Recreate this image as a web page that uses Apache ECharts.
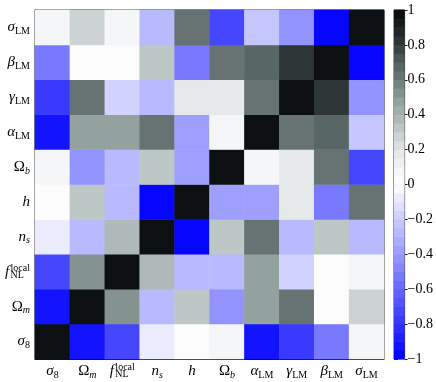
<!DOCTYPE html>
<html>
<head>
<meta charset="utf-8">
<script src="https://cdn.jsdelivr.net/npm/echarts@6/dist/echarts.min.js"></script>
<style>html,body{margin:0;padding:0;background:#fff;}#c{width:436px;height:382px;}</style>
</head>
<body>
<div id="c"></div>
<script>
// Parameter order (x: left->right, y: bottom->top)
const params = ['σ8', 'Ωm', 'fNL', 'ns', 'h', 'Ωb', 'αLM', 'γLM', 'βLM', 'σLM'];
const paramLabels = [
  '{i|σ}{s|8}',
  '{r|Ω}{si|m}',
  '{ph|f}{sup|local}\n{i2|f}{s2|NL}',
  '{i|n}{si|s}',
  '{i|h}',
  '{r|Ω}{si|b}',
  '{i|α}{s|LM}',
  '{i|γ}{s|LM}',
  '{i|β}{s|LM}',
  '{i|σ}{s|LM}'
];
// Correlation matrix rows in parameter order
const rowSigma8 = [1, -0.91, -0.72, -0.1, 0, 0.07, -0.91, -0.8, -0.53, 0.07];
const rowOmegaM = [-0.91, 1, 0.53, -0.3, 0.32, -0.43, 0.48, 0.61, 0, 0.27];
const rowFNL    = [-0.72, 0.53, 1, 0.39, -0.3, -0.3, 0.48, -0.17, 0, 0.07];
const rowNs     = [-0.1, -0.3, 0.39, 1, -0.98, 0.32, 0.61, -0.3, 0.32, -0.3];
const rowH      = [0, 0.32, -0.3, -0.98, 1, -0.38, -0.38, 0.17, -0.53, 0.61];
const rowOmegaB = [0.07, -0.43, -0.3, 0.32, -0.38, 1, 0.07, 0.17, 0.61, -0.72];
const rowAlpha  = [-0.91, 0.48, 0.48, 0.61, -0.38, 0.07, 1, 0.61, 0.68, -0.22];
const rowGamma  = [-0.8, 0.61, -0.17, -0.3, 0.17, 0.17, 0.61, 1, 0.8, -0.43];
const rowBeta   = [-0.53, 0, 0, 0.32, -0.53, 0.61, 0.68, 0.8, 1, -0.98];
const rowSigmaLM= [0.07, 0.27, 0.07, -0.3, 0.61, -0.72, -0.22, -0.43, -0.98, 1];
const matrix = [rowSigma8, rowOmegaM, rowFNL, rowNs, rowH, rowOmegaB, rowAlpha, rowGamma, rowBeta, rowSigmaLM];
const colorbarTicks = [-1, -0.8, -0.6, -0.4, -0.2, 0, 0.2, 0.4, 0.6, 0.8, 1];
const annotationText = 'Counts';

// colormap (style)
const posStops = [
  [0.0, [255,255,255]], [0.1, [242,243,245]], [0.2, [226,229,229]], [0.3, [196,205,203]],
  [0.4, [168,180,178]], [0.5, [140,154,152]], [0.6, [108,122,120]], [0.7, [82,95,95]],
  [0.8, [52,60,60]], [0.9, [28,33,34]], [1.0, [8,10,12]]
];
function cmap(v) {
  let c;
  if (v <= 0) {
    const t = Math.max(0, 1 + v);
    c = [255 * t, 255 * t, 255];
  } else {
    for (let k = 0; k < posStops.length - 1; k++) {
      const a = posStops[k], b = posStops[k + 1];
      if (v <= b[0]) {
        const t = (v - a[0]) / (b[0] - a[0]);
        c = a[1].map((x, m) => x + (b[1][m] - x) * t);
        break;
      }
    }
    if (!c) c = posStops[posStops.length - 1][1];
  }
  return 'rgb(' + c.map(x => Math.round(x)).join(',') + ')';
}
const nBands = 40, step = 2 / nBands;
const pieces = [];
const bands = [];
for (let k = 0; k < nBands; k++) {
  const lo = Math.round((-1 + k * step) * 1000) / 1000;
  const hi = Math.round((lo + step) * 1000) / 1000;
  const col = cmap(lo + step / 2);
  const p = { gte: lo, color: col };
  if (k === nBands - 1) p.lte = hi; else p.lt = hi;
  pieces.push(p);
  bands.push([0, lo, hi]);
}

const heatData = [];
for (let i = 0; i < params.length; i++)
  for (let j = 0; j < params.length; j++)
    heatData.push([i, j, matrix[j][i]]);

const SERIF = '"Liberation Serif", "DejaVu Serif", serif';
const rich = {
  i:  { fontFamily: SERIF, fontStyle: 'italic', fontSize: 15, lineHeight: 18, verticalAlign: 'middle', color: '#000' },
  r:  { fontFamily: SERIF, fontSize: 15, lineHeight: 18, verticalAlign: 'middle', color: '#000' },
  s:  { fontFamily: SERIF, fontSize: 10, lineHeight: 18, verticalAlign: 'bottom', color: '#000' },
  si: { fontFamily: SERIF, fontStyle: 'italic', fontSize: 10, lineHeight: 18, verticalAlign: 'bottom', color: '#000' },
  ph: { fontFamily: SERIF, fontStyle: 'italic', fontSize: 15, lineHeight: 1, verticalAlign: 'top', align: 'left', padding: [0, 1.5, 0, 0], color: 'rgba(0,0,0,0)' },
  sup:{ fontFamily: SERIF, fontSize: 10, lineHeight: 1, verticalAlign: 'top', align: 'left', color: '#000' },
  i2: { fontFamily: SERIF, fontStyle: 'italic', fontSize: 15, lineHeight: 16, verticalAlign: 'middle', align: 'left', padding: [0, 1.5, 0, 0], color: '#000' },
  s2: { fontFamily: SERIF, fontSize: 10, lineHeight: 16, verticalAlign: 'bottom', align: 'left', color: '#000' }
};

const chart = echarts.init(document.getElementById('c'), null, { renderer: 'canvas' });
chart.setOption({
  animation: false,
  backgroundColor: '#fff',
  grid: [
    { left: 35, top: 10, width: 349, height: 349, show: true, borderColor: '#111', borderWidth: 1, backgroundColor: 'transparent' },
    { left: 394, top: 10, width: 13, height: 349, show: true, borderColor: '#333', borderWidth: 1, backgroundColor: 'transparent' }
  ],
  xAxis: [
    { type: 'category', gridIndex: 0, data: paramLabels, axisTick: { show: false },
      axisLine: { show: true, lineStyle: { color: '#111', width: 1 } },
      splitLine: { show: false },
      axisLabel: { interval: 0, margin: 3, rich: rich, formatter: v => v } },
    { type: 'category', gridIndex: 1, data: ['cb'], show: false }
  ],
  yAxis: [
    { type: 'category', gridIndex: 0, data: paramLabels, axisTick: { show: false },
      axisLine: { show: true, lineStyle: { color: '#111', width: 1 } },
      splitLine: { show: false },
      axisLabel: { interval: 0, margin: 5, rich: rich, formatter: v => v } },
    { type: 'value', gridIndex: 1, position: 'right', min: -1, max: 1, interval: 0.2,
      splitLine: { show: false },
      axisLine: { show: false },
      axisTick: { show: true, inside: false, length: 3, lineStyle: { color: '#222' } },
      axisLabel: { margin: 3, color: '#000', fontFamily: SERIF, fontSize: 14,
        formatter: v => { const r = Math.round(v * 10) / 10; return r < 0 ? '\u2212' + String(-r) : String(r); } } },
    { type: 'value', gridIndex: 1, position: 'left', min: -1, max: 1, interval: 0.2,
      splitLine: { show: false }, axisLine: { show: false },
      axisTick: { show: true, inside: true, length: 4, lineStyle: { color: '#222' } },
      axisLabel: { show: false } }
  ],
  visualMap: {
    type: 'piecewise', show: false, seriesIndex: 0, dimension: 2, pieces: pieces
  },
  series: [
    { type: 'heatmap', xAxisIndex: 0, yAxisIndex: 0, data: heatData, itemStyle: { borderWidth: 0 }, emphasis: { disabled: true } },
    { type: 'custom', xAxisIndex: 1, yAxisIndex: 1, data: bands, encode: { x: 0, y: [1, 2] },
      renderItem: function (p, api) {
        const lo = api.value(1), hi = api.value(2);
        const a = api.coord([0, hi]), b = api.coord([0, lo]);
        const w = api.size([1, 0])[0];
        return { type: 'rect', shape: { x: a[0] - w / 2, y: a[1] - 0.3, width: w, height: b[1] - a[1] + 0.6 },
                 style: { fill: cmap((lo + hi) / 2) } };
      }, z: 1 }
  ],
  graphic: [{
    type: 'group', left: 66, top: 33, z: 100,
    children: [
      { type: 'rect', shape: { x: 0, y: 0, width: 56, height: 26 }, style: { fill: '#fff', stroke: '#000', lineWidth: 1.5 } },
      { type: 'text', x: 28, y: 13.5, style: { text: annotationText, font: '16px ' + SERIF, textAlign: 'center', textVerticalAlign: 'middle', fill: '#000' } }
    ]
  }]
});
</script>
</body>
</html>
